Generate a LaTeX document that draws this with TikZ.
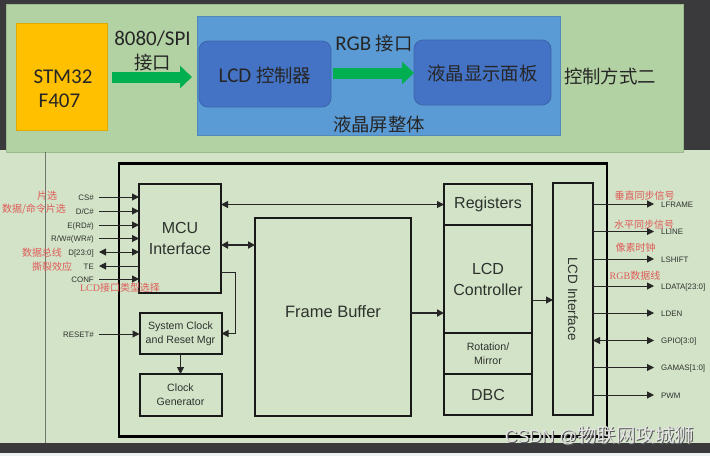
\documentclass[tikz,border=0pt]{standalone}
\usepackage{fontspec}
\setmainfont{Carlito}
\setsansfont{Liberation Sans}
\newfontfamily\cjk{Noto Sans CJK SC}
\newfontfamily\redlatin{Liberation Serif}
\usetikzlibrary{arrows.meta, positioning}
\definecolor{my_dark}{RGB}{58, 58, 60}
\definecolor{my_strip}{RGB}{238, 241, 243}
\definecolor{my_panel}{RGB}{178, 210, 163}
\definecolor{my_lower}{RGB}{211, 227, 200}
\definecolor{my_yellow}{RGB}{255, 192, 0}
\definecolor{my_blue}{RGB}{91, 155, 213}
\definecolor{my_darkblue}{RGB}{68, 114, 196}
\definecolor{my_green}{RGB}{0, 176, 80}
\definecolor{my_red}{RGB}{222, 92, 88}
\definecolor{my_ink}{RGB}{45, 50, 45}
\newcommand{\zh}[1]{{\cjk\fontsize{18.4}{24}\selectfont #1}}
\newcommand{\marktext}{CSDN @{\cjk\fontsize{19.5}{20}\selectfont 物联网攻城狮}}
\tikzset {
  panel/.style = {draw=#1!88!black, fill=#1, line width=0.8pt, rectangle, outer sep=0pt, inner sep=0pt},
  softbox/.style = {panel=my_darkblue, rounded corners=9pt, text=black},
  bigtext/.style = {font=\fontsize{21}{24}\selectfont, text=black!85, align=center, inner sep=0pt},
  blockarrow/.style = {-{Triangle[length=12pt, width=22pt]}, line width=11pt, color=my_green},
  chipbox/.style = {draw=black, line width=2.6pt, rectangle, outer sep=0pt},
  block/.style = {draw=black!90, line width=2pt, rectangle, outer sep=0pt, inner sep=0pt, align=center, text=my_ink, font=\sffamily\fontsize{16}{21}\selectfont},
  smallblock/.style = {block, font=\sffamily\fontsize{10.6}{14}\selectfont},
  line/.style = {color=black!85, line width=1pt, >={Triangle[length=7pt, width=7pt]}},
  thickline/.style = {line, line width=2pt},
  pin/.style = {font=\sffamily\fontsize{7.9}{9}\selectfont, text=my_ink, text height=6pt, text depth=0pt, inner ysep=0pt},
  leftpin/.style = {pin, anchor=east, inner xsep=5pt},
  rightpin/.style = {pin, anchor=west, inner xsep=7pt},
  note/.style = {font=\cjk\fontsize{10}{12}\selectfont, text=my_red, inner sep=0pt}
}
\begin{document}
\begin{tikzpicture}[x=1pt, y=-1pt]
    \useasboundingbox (0,0) rectangle (710,456);
    \fill[my_dark] (0,0) rectangle (710,456);
    \fill[my_strip] (0,453) rectangle (710,456);
    \fill[my_lower] (0,150) rectangle (710,443);

    % upper part
    \node[panel=my_panel, minimum width=677pt, minimum height=148pt] (upper) at (344.5,78) {};
    \node[panel=my_yellow, minimum width=91pt, minimum height=107pt] (stm32) at (61.5,76.5) {};
    \node[bigtext] (stmtext) at (63,88.5) {STM32\\\hspace*{-7pt}F407};
    \node[panel=my_blue, minimum width=363pt, minimum height=119pt] (whole) at (378.5,75.5) {};
    \node[softbox, minimum width=132pt, minimum height=66pt] (lcdctrl) at (265,74) {};
    \node[softbox, minimum width=137pt, minimum height=65pt] (lcdpanel) at (482.5,72.5) {};
    \node[bigtext] (lcdtext) at (265,75) {LCD \zh{控制器}};
    \node[bigtext] (paneltext) at (482.5,73) {\zh{液晶显示面板}};
    \node[bigtext] (spi) at (152.5,51) {8080/SPI\\\zh{接口}};
    \node[bigtext] (rgb) at (374,44) {RGB \zh{接口}};
    \node[bigtext] (wholetext) at (379,124) {\zh{液晶屏整体}};
    \node[bigtext] (mode) at (610,76) {\zh{控制方式二}};

    \coordinate (spiout) at (107,77);
    \coordinate (rgbout) at (331,73);
    \draw[blockarrow, shorten <=5pt, shorten >=7pt] (spiout) -- (spiout -| lcdctrl.west);
    \draw[blockarrow, shorten <=2pt, shorten >=0pt] (rgbout) -- (rgbout -| lcdpanel.west);

    % lower part
    \node[draw=black!75, line width=0.8pt, minimum height=291pt, minimum width=0pt, inner sep=0pt] (rule) at (45,297.5) {};
    \node[chipbox, minimum width=488pt, minimum height=273pt] (chip) at (363,300) {};

    \node[block, minimum width=82pt, minimum height=109pt] (mcu) at (180,238.5) {MCU\\Interface};
    \node[smallblock, minimum width=82pt, minimum height=41pt] (sysclk) at (180.5,333.5) {System Clock\\and Reset Mgr};
    \node[smallblock, minimum width=82pt, minimum height=42pt, below=20pt of sysclk] (clkgen) {Clock\\Generator};
    \node[block, minimum width=156pt, minimum height=198pt, font=\sffamily\fontsize{16.5}{21}\selectfont] (framebuf) at (333,317) {\raisebox{11pt}{Frame Buffer}};
    \node[block, minimum width=88pt, minimum height=41pt] (registers) at (488,204.5) {Registers};
    \node[block, minimum width=88pt, minimum height=108pt, below=0pt of registers] (controller) {LCD\\Controller};
    \node[smallblock, minimum width=88pt, minimum height=41pt, below=0pt of controller] (rotation) {Rotation/\\Mirror};
    \node[block, minimum width=88pt, minimum height=41pt, below=0pt of rotation, font=\sffamily\fontsize{16}{20}\selectfont] (dbc) {DBC};
    \node[block, minimum width=40pt, minimum height=232pt, font=\sffamily\fontsize{13.5}{16}\selectfont] (iface) at (573,299) {\rotatebox{-90}{LCD Interface}};

    % pins on the left
    \node[leftpin] (cs) at (99,197) {CS\#};
    \node[leftpin] (dc) at (99,211) {D/C\#};
    \node[leftpin] (erd) at (99,225) {E(RD\#)};
    \node[leftpin] (rww) at (99,238.5) {R/W\#(WR\#)};
    \node[leftpin] (data) at (99,252) {D[23:0]};
    \node[leftpin] (te) at (99,266) {TE};
    \node[leftpin] (conf) at (99,279) {CONF};
    \node[leftpin] (reset) at (99,334) {RESET\#};

    \draw[line, ->] (cs.east) -- (cs.east -| mcu.west);
    \draw[line, ->] (dc.east) -- (dc.east -| mcu.west);
    \draw[line, ->] (erd.east) -- (erd.east -| mcu.west);
    \draw[line, ->] (rww.east) -- (rww.east -| mcu.west);
    \draw[line, <->] (data.east) -- (data.east -| mcu.west);
    \draw[line, <-] (te.east) -- (te.east -| mcu.west);
    \draw[line, ->] (conf.east) -- (conf.east -| mcu.west);
    \draw[line, ->] (reset.east) -- (reset.east -| sysclk.west);

    % pins on the right
    \node[rightpin] (lframe) at (654,204) {LFRAME};
    \node[rightpin] (lline) at (654,231.5) {LLINE};
    \node[rightpin] (lshift) at (654,259) {LSHIFT};
    \node[rightpin] (ldata) at (654,286) {LDATA[23:0]};
    \node[rightpin] (lden) at (654,313) {LDEN};
    \node[rightpin] (gpio) at (654,340.5) {GPIO[3:0]};
    \node[rightpin] (gamas) at (654,367.5) {GAMAS[1:0]};
    \node[rightpin] (pwm) at (654,395) {PWM};

    \draw[line, ->] (lframe.west -| iface.east) -- (lframe.west);
    \draw[line, ->] (lline.west -| iface.east) -- (lline.west);
    \draw[line, ->] (lshift.west -| iface.east) -- (lshift.west);
    \draw[line, ->] (ldata.west -| iface.east) -- (ldata.west);
    \draw[line, ->] (lden.west -| iface.east) -- (lden.west);
    \draw[line, <->] (gpio.west -| iface.east) -- (gpio.west);
    \draw[line, ->] (gamas.west -| iface.east) -- (gamas.west);
    \draw[line, ->] (pwm.west -| iface.east) -- (pwm.west);

    % inside the chip
    \coordinate (fbport) at (255,245);
    \coordinate (fbout) at (411,313);
    \coordinate (ctrlout) at (532,300);
    \coordinate (mcutap) at (221,272);
    \draw[line, <->] (registers.west -| mcu.east) -- (registers.west);
    \draw[thickline, <->] (fbport -| mcu.east) -- (fbport);
    \draw[thickline, ->] (fbout) -- (fbout -| controller.west);
    \draw[line, ->] (ctrlout) -- (ctrlout -| iface.west);
    \draw[line, ->] (mcutap) -- ++(14,0) |- (sysclk.east);
    \draw[line, ->] (sysclk.south) -- (clkgen.north);

    % red notes
    \node[note] (n1) at (47,196) {片选};
    \node[note] (n2) at (34,209) {数据/命令片选};
    \node[note] (n3) at (42,253) {数据总线};
    \node[note] (n4) at (52,267) {撕裂效应};
    \node[note] (n5) at (120,288) {{\redlatin LCD}接口类型选择};
    \node[note] (n6) at (644.5,196) {垂直同步信号};
    \node[note] (n7) at (644,225) {水平同步信号};
    \node[note] (n8) at (635.5,248) {像素时钟};
    \node[note] (n9) at (635,276) {{\redlatin RGB}数据线};

    \node[inner sep=0pt, text=white!90!black, font=\sffamily\fontsize{17.5}{20}\selectfont] (mark) at (599.5,436) {\rlap{\raisebox{-1pt}{\hspace{1pt}\textcolor{black!65}{\marktext}}}\marktext};
\end{tikzpicture}
\end{document}
